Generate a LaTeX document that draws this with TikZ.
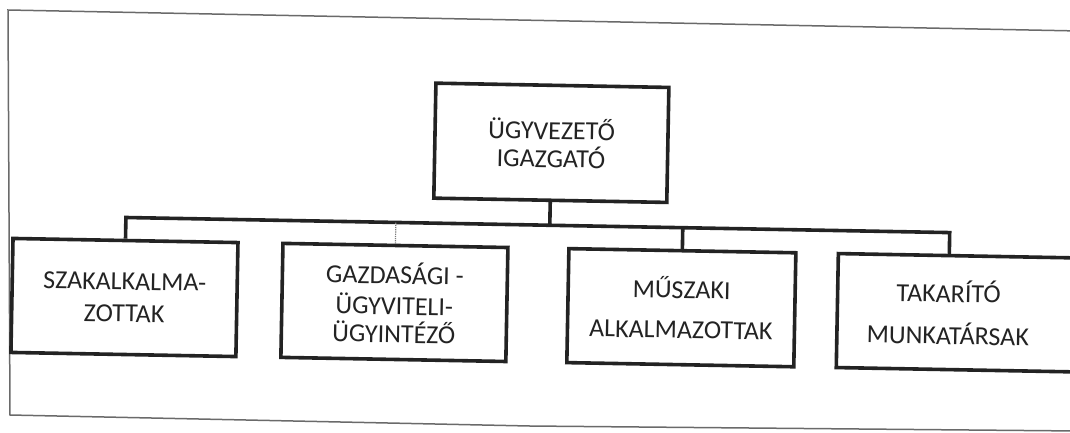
\documentclass[tikz,border=0pt]{standalone}
\usepackage{fontspec}
\setmainfont{Carlito}
\usetikzlibrary{calc}
\definecolor{ink}{HTML}{232323}
\definecolor{framecol}{HTML}{6A6A6A}
\begin{document}
\begin{tikzpicture}[x=1pt,y=-1pt,
  box/.style={draw=ink, line width=3.6pt, fill=white, align=center,
    font=\fontsize{26}{30}\selectfont, text=ink, inner sep=0pt,
    transform shape, minimum height=114pt},
  link/.style={draw=ink, line width=3.6pt, line join=miter},
  faint/.style={draw=ink!60, line width=1.2pt, densely dotted},
  framestyle/.style={draw=framecol, line width=1.5pt}]
\useasboundingbox (0,0) rectangle (1070,432);
\clip (0,0) rectangle (1070,432);
% outer frame of the scanned page
\draw[framestyle] (1080,31) -- (8,10) -- (10,415) -- (530,426) -- (1080,431);
\begin{scope}[rotate around={-1.05:(535,216)}]
  \node[box, minimum width=233pt, minimum height=115pt] (top) at (550,142.5) {ÜGYVEZETŐ\\[-2pt]IGAZGATÓ};
  \node[box, minimum width=225pt] (b1) at (126,305) {SZAKALKALMA-\\[2pt]ZOTTAK};
  \node[box, minimum width=225pt] (b2) at (396,305) {GAZDASÁGI -\\[1pt]ÜGYVITELI-\\[-2pt]ÜGYINTÉZŐ};
  \node[box, minimum width=227pt] (b3) at (683,305) {MŰSZAKI\\[10pt]ALKALMAZOTTAK};
  \node[box, minimum width=250pt] (b4) at (964,305) {TAKARÍTÓ\rule{28pt}{0pt}\\[12pt]MUNKATÁRSAK\rule{28pt}{0pt}};
  \coordinate (j0) at (550,225);
  \coordinate (j1) at (126,225);
  \coordinate (j2) at (396,225);
  \coordinate (j3) at (683,225);
  \coordinate (j4) at (950,225);
  \coordinate (s4) at (950,248);
  \draw[link] (b1.north) -- (j1) -- (j4) -- (s4);
  \draw[link] (top.south) -- (j0);
  \draw[link] (b3.north) -- (j3);
  \draw[faint] (b2.north) -- (j2);
\end{scope}
\end{tikzpicture}
\end{document}
